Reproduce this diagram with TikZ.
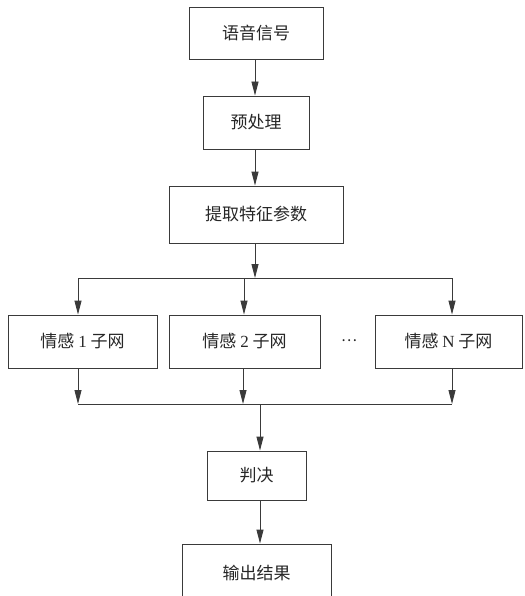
\documentclass[tikz,border=0pt]{standalone}
\usepackage{fontspec}
\setmainfont{Liberation Serif}
\newfontfamily\cjk{Noto Sans CJK SC}
\usetikzlibrary{arrows.meta}
\definecolor{ln}{HTML}{3A3A3A}
\begin{document}
\begin{tikzpicture}[x=1pt,y=-1pt,
  box/.style={draw=ln,line width=0.9pt,inner sep=0pt,font=\cjk\fontsize{17}{20}\selectfont,text=black!85},
  arr/.style={draw=ln,line width=0.9pt,-{Triangle[length=14pt,width=7pt]}},
  ln/.style={draw=ln,line width=0.9pt}]
\useasboundingbox (0,0) rectangle (524,596);
\node[box,minimum width=134pt,minimum height=52pt] (sig) at (256,33) {语音信号};
\node[box,minimum width=106pt,minimum height=53pt] (pre) at (256,122.5) {预处理};
\node[box,minimum width=174pt,minimum height=57pt] (feat) at (256,214.5) {提取特征参数};
\node[box,minimum width=149pt,minimum height=53pt] (e1) at (82.5,341.5) {情感 {\rmfamily 1} 子网};
\node[box,minimum width=151pt,minimum height=53pt] (e2) at (244.5,341.5) {情感 {\rmfamily 2} 子网};
\node[box,minimum width=147pt,minimum height=53pt] (eN) at (448.5,341.5) {情感 {\rmfamily N} 子网};
\node[font=\cjk\fontsize{15}{18}\selectfont,text=black!85] (dots) at (349,341) {…};
\node[box,minimum width=99pt,minimum height=49pt] (pj) at (256.5,475.5) {判决};
\node[box,minimum width=149pt,minimum height=58pt] (out) at (256.5,573) {输出结果};
\coordinate (t0) at (255,278);
\coordinate (t1) at (78,278);
\coordinate (t2) at (244,278);
\coordinate (t3) at (452,278);
\coordinate (m1) at (78,404);
\coordinate (m2) at (243,404);
\coordinate (m3) at (452,404);
\coordinate (m0) at (260,404);
\draw[arr] (sig.south -| t0) -- (pre.north -| t0);
\draw[arr] (pre.south -| t0) -- (feat.north -| t0);
\draw[arr] (feat.south -| t0) -- (t0);
\draw[ln] (t1) -- (t3);
\draw[arr] (t1) -- (e1.north -| t1);
\draw[arr] (t2) -- (e2.north -| t2);
\draw[arr] (t3) -- (eN.north -| t3);
\draw[arr] (e1.south -| m1) -- (m1);
\draw[arr] (e2.south -| m2) -- (m2);
\draw[arr] (eN.south -| m3) -- (m3);
\draw[ln] (m1) -- (m3);
\draw[arr] (m0) -- (pj.north -| m0);
\draw[arr] (pj.south -| m0) -- (out.north -| m0);
\end{tikzpicture}
\end{document}
